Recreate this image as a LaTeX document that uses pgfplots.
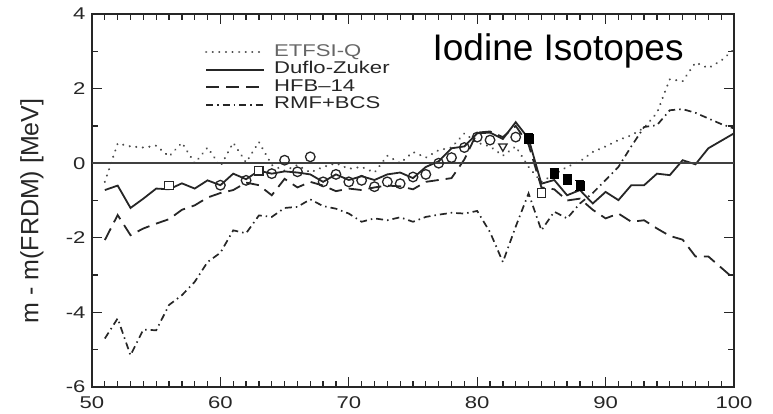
\documentclass[border=0pt]{standalone}
\usepackage{pgfplots}
\pgfplotsset{compat=1.18}
\usepackage{fontspec}
\setmainfont{Liberation Sans}
\usepackage{graphicx}
\begin{document}
\begin{tikzpicture}
\begin{axis}[
  scale only axis, width=642pt, height=373pt,
  xmin=50, xmax=100, ymin=-6, ymax=4,
  xtick={50,60,...,100}, ytick={-6,-4,...,4},
  minor x tick num=9, minor y tick num=1,
  tick align=inside,
  major tick length=10pt, minor tick length=6pt,
  axis line style={line width=1.6pt, black!85},
  every tick/.style={black!85, line width=1.3pt},
  /pgf/number format/assume math mode=true,
  tick label style={font=\fontsize{17}{17}\selectfont, black!85},
  xticklabel={\scalebox{1.3}[1]{\pgfmathprintnumber{\tick}}},
  yticklabel={\scalebox{1.3}[1]{\pgfmathprintnumber{\tick}}},
  xticklabel style={yshift=-6pt},
  yticklabel style={xshift=-3pt},
  ylabel={m - m(FRDM) [MeV]},
  ylabel style={at={(rel axis cs:-0.0935,0.472)}, anchor=center, rotate=0, font=\fontsize{25}{25}\selectfont, black!85},
  legend style={draw=none, fill=none, at={(rel axis cs:0.171,0.925)}, anchor=north west,
    font=\fontsize{17}{17}\selectfont, row sep=1.5pt, column sep=9pt,
    nodes={inner sep=0pt, text height=12pt, text depth=4pt}},
  legend cell align=left,
  legend image code/.code={\draw[#1] (0pt,0pt) -- (58pt,0pt);},
]
% ETFSI-Q
\addplot[black!70, line width=2.2pt, line cap=round, dash pattern=on 0.1pt off 6.5pt] coordinates {
(51,-0.5)(52,0.53)(53,0.45)(54,0.42)(55,0.47)(56,0.18)(57,0.55)(58,0.0)(59,0.42)(60,-0.08)
(61,0.55)(62,0.02)(63,0.57)(64,-0.05)(65,-0.2)(66,-0.05)(67,-0.25)(68,-0.1)(69,0.0)(70,-0.15)
(71,-0.1)(72,-0.25)(73,0.2)(74,0.0)(75,0.3)(76,0.15)(77,0.35)(78,0.42)(79,0.8)(80,0.55)
(81,0.45)(82,0.2)(83,0.45)(84,-0.1)(85,-0.5)(86,-0.3)(87,-0.1)(88,0.05)(89,0.3)(90,0.45)
(91,0.62)(92,0.75)(93,0.95)(94,1.35)(95,2.25)(96,2.2)(97,2.7)(98,2.55)(99,2.75)(100,3.05)};
\addlegendentry{\textcolor{black!60}{\scalebox{1.3}[1]{ETFSI-Q}}}
% Duflo-Zuker
\addplot[black!85, line width=1.8pt] coordinates {
(51,-0.72)(52,-0.6)(53,-1.2)(54,-0.95)(55,-0.68)(56,-0.7)(57,-0.54)(58,-0.68)(59,-0.46)(60,-0.59)
(61,-0.28)(62,-0.43)(63,-0.2)(64,-0.28)(65,-0.22)(66,-0.25)(67,-0.3)(68,-0.5)(69,-0.3)(70,-0.45)
(71,-0.35)(72,-0.45)(73,-0.3)(74,-0.25)(75,-0.4)(76,-0.1)(77,0.05)(78,0.4)(79,0.45)(80,0.8)
(81,0.82)(82,0.65)(83,1.1)(84,0.66)(85,-0.55)(86,-0.45)(87,-0.86)(88,-0.72)(89,-1.08)(90,-0.77)
(91,-0.99)(92,-0.59)(93,-0.59)(94,-0.28)(95,-0.32)(96,0.08)(97,-0.03)(98,0.4)(99,0.6)(100,0.8)};
\addlegendentry{\textcolor{black!85}{\scalebox{1.3}[1]{Duflo-Zuker}}}
% HFB-14
\addplot[black!85, line width=1.8pt, dash pattern=on 13pt off 7pt] coordinates {
(51,-2.06)(52,-1.39)(53,-1.93)(54,-1.75)(55,-1.62)(56,-1.5)(57,-1.25)(58,-1.13)(59,-0.92)(60,-0.8)
(61,-0.72)(62,-0.52)(63,-0.59)(64,-0.86)(65,-0.42)(66,-0.65)(67,-0.5)(68,-0.6)(69,-0.75)(70,-0.68)
(71,-0.72)(72,-0.65)(73,-0.6)(74,-0.62)(75,-0.7)(76,-0.5)(77,-0.45)(78,-0.4)(79,0.1)(80,0.82)
(81,0.85)(82,0.7)(83,1.0)(84,0.5)(85,-0.65)(86,-0.7)(87,-1.0)(88,-0.95)(89,-1.25)(90,-1.48)
(91,-1.35)(92,-1.57)(93,-1.53)(94,-1.75)(95,-1.95)(96,-2.05)(97,-2.5)(98,-2.5)(99,-2.8)(100,-3.1)};
\addlegendentry{\textcolor{black!85}{\scalebox{1.3}[1]{HFB{\textendash}14}}}
% RMF+BCS
\addplot[black!85, line width=1.7pt, dash pattern=on 7pt off 4pt on 1.5pt off 4pt] coordinates {
(51,-4.7)(52,-4.16)(53,-5.15)(54,-4.46)(55,-4.48)(56,-3.8)(57,-3.54)(58,-3.18)(59,-2.65)(60,-2.4)
(61,-1.8)(62,-1.88)(63,-1.4)(64,-1.44)(65,-1.2)(66,-1.17)(67,-0.97)(68,-1.15)(69,-1.22)(70,-1.35)
(71,-1.57)(72,-1.48)(73,-1.53)(74,-1.45)(75,-1.57)(76,-1.44)(77,-1.38)(78,-1.33)(79,-1.35)(80,-1.28)
(81,-1.85)(82,-2.65)(83,-1.7)(84,-0.81)(85,-1.8)(86,-1.3)(87,-1.48)(88,-1.08)(89,-0.8)(90,-0.45)
(91,-0.1)(92,0.45)(93,0.97)(94,1.02)(95,1.42)(96,1.45)(97,1.35)(98,1.2)(99,1.05)(100,0.93)};
\addlegendentry{\textcolor{black!85}{\scalebox{1.3}[1]{RMF+BCS}}}
% zero line
\addplot[black!75, line width=1.4pt, forget plot] coordinates {(50,0) (100,0)};
% experimental: open circles
\addplot[only marks, mark=o, mark size=4.8pt, mark options={fill=white, draw=black!85, line width=1.3pt}, forget plot] coordinates {
(60,-0.59)(62,-0.46)(64,-0.28)(65,0.08)(66,-0.23)(67,0.17)(68,-0.5)(69,-0.3)(70,-0.5)(71,-0.46)
(72,-0.63)(73,-0.5)(74,-0.55)(75,-0.37)(76,-0.3)(77,0)(78,0.15)(79,0.42)(80,0.7)(81,0.62)(83,0.7)};
% open squares
\addplot[only marks, mark=square*, mark size=4.2pt, mark options={fill=white, draw=black!85, line width=1.3pt}, forget plot] coordinates {
(56,-0.6)(63,-0.2)(85,-0.8)};
% open triangle
\addplot[only marks, mark=triangle*, mark size=4.8pt, mark options={rotate=180, fill=white, draw=black!85, line width=1.3pt}, forget plot] coordinates {
(82,0.45)};
% filled squares with error bars
\addplot[only marks, mark=square*, mark size=4.2pt, mark options={fill=black, draw=black}, forget plot,
  error bars/.cd, y dir=both, y explicit, error bar style={line width=1.2pt, black},
  error mark options={rotate=90, mark size=4.5pt, line width=1.2pt}] coordinates {
(84,0.66) +- (0,0.13) (86,-0.28) +- (0,0.13) (87,-0.43) +- (0,0.13) (88,-0.6) +- (0,0.13)};
\node[anchor=base, font=\fontsize{37}{37}\selectfont, black] at (axis cs:86.3,2.76) {Iodine Isotopes};
\end{axis}
\pgfresetboundingbox
\path[use as bounding box] (-92pt,-26pt) rectangle (681pt,387pt);
\end{tikzpicture}
\end{document}
